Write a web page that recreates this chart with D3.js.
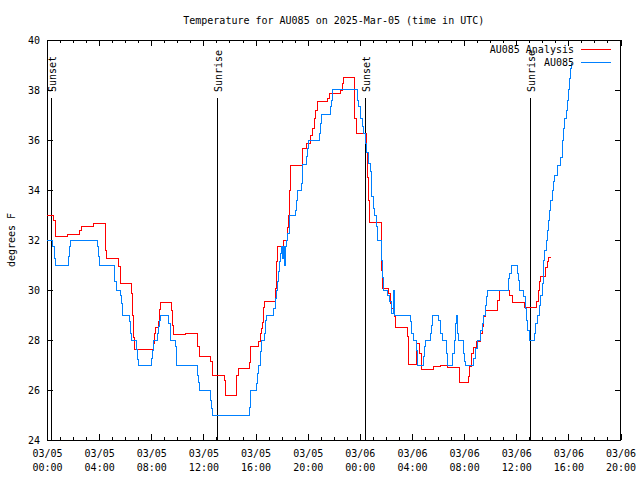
<!DOCTYPE html>
<html><head><meta charset="utf-8">
<script src="https://cdn.jsdelivr.net/npm/d3@7"></script>
<style>body{margin:0;background:#fff}svg{display:block}text{font-family:"DejaVu Sans Mono",monospace;font-size:10px;fill:#000}</style>
</head><body><svg width="640" height="480"></svg>
<script>
const title = "Temperature for AU085 on 2025-Mar-05 (time in UTC)";
const yLabel = "degrees F";
const seriesNames = ["AU085 Analysis", "AU085"];
const seriesColors = ["#ff0000", "#0080ff"];
const yTicks = [24, 26, 28, 30, 32, 34, 36, 38, 40];
const xTickHours = [0, 4, 8, 12, 16, 20, 24, 28, 32, 36, 40, 44];
const xTickDates = ["03/05","03/05","03/05","03/05","03/05","03/05","03/06","03/06","03/06","03/06","03/06","03/06"];
const xTickTimes = ["00:00","04:00","08:00","12:00","16:00","20:00","00:00","04:00","08:00","12:00","16:00","20:00"];
const sunEventMinutes = [20, 785, 1467, 2227];
const sunEventLabels = ["Sunset", "Sunrise", "Sunset", "Sunrise"];

// minutes after 2025-03-05 00:00 UTC
const analysisMinutes = [0,29,37,95,149,157,213,269,275,329,340,390,394,398,402,490,496,501,513,517,522,575,579,582,636,693,702,754,762,816,822,874,880,932,939,974,981,986,992,997,1001,1051,1055,1058,1061,1088,1106,1113,1117,1120,1174,1178,1194,1215,1224,1232,1238,1246,1293,1301,1350,1358,1365,1415,1424,1469,1476,1481,1485,1538,1542,1545,1573,1581,1588,1600,1604,1658,1665,1699,1714,1723,1777,1811,1842,1901,1939,1945,1952,1964,1977,1995,2003,2010,2018,2076,2083,2130,2144,2199,2253,2261,2266,2272,2295,2303,2307,2321];
const analysisTemps = [33.0,32.8,32.16,32.24,32.4,32.53,32.67,31.6,31.27,30.93,30.27,29.87,29.0,28.1,27.63,27.87,28.27,28.5,28.73,29.23,29.5,29.2,28.6,28.23,28.27,27.73,27.36,27.13,26.57,26.4,25.79,26.6,26.87,27.1,27.73,27.93,28.27,28.47,28.7,29.3,29.53,30.07,30.6,31.13,31.73,32.0,32.5,33.0,34.0,35.0,35.33,35.67,35.87,36.2,36.47,36.87,37.2,37.56,37.67,37.87,38.0,38.27,38.5,36.87,36.27,35.5,34.5,33.6,32.7,32.0,30.8,30.07,29.87,29.47,29.27,28.93,28.5,28.13,27.04,27.87,27.47,26.83,26.93,26.99,26.91,26.31,26.56,26.93,27.47,27.71,27.93,28.27,28.53,28.93,29.2,29.6,30.0,29.8,29.52,29.31,29.53,30.0,30.33,30.56,30.91,31.13,31.31,31.31];

const obsMinutes = [0,26,34,38,98,103,109,232,236,241,309,313,321,340,344,349,379,386,390,413,418,421,482,487,490,508,513,517,522,559,567,570,590,594,598,693,697,702,754,759,763,932,935,939,963,969,974,981,985,989,1000,1008,1012,1043,1051,1055,1063,1066,1070,1074,1078,1086,1089,1093,1097,1101,1109,1114,1117,1143,1147,1151,1170,1175,1178,1194,1199,1204,1255,1259,1264,1304,1309,1315,1430,1434,1442,1453,1458,1465,1473,1481,1488,1496,1501,1507,1516,1522,1538,1542,1545,1550,1568,1577,1584,1588,1596,1600,1673,1680,1685,1700,1706,1734,1739,1743,1765,1770,1776,1803,1811,1819,1839,1845,1868,1875,1882,1886,1891,1895,1916,1923,1928,1964,1972,1980,1995,2004,2010,2018,2023,2026,2126,2130,2137,2164,2172,2176,2195,2203,2206,2212,2221,2246,2250,2256,2268,2272,2280,2284,2287,2291,2298,2303,2307,2312,2318,2326,2333,2338,2349,2364,2372,2379,2384,2390,2395,2399,2405,2410,2415];
const obsTemps = [32.0,31.73,31.27,31.0,31.33,31.73,32.0,31.73,31.33,31.0,30.67,30.33,30.0,29.8,29.47,29.0,28.73,28.27,28.0,27.63,27.23,27.0,27.27,27.6,28.0,28.27,28.56,28.8,29.0,28.67,28.33,28.0,27.73,27.33,27.0,26.6,26.3,26.0,25.6,25.27,25.0,25.3,25.67,26.0,26.27,26.67,27.0,27.23,27.53,28.0,28.27,28.8,29.0,29.27,29.67,30.0,30.33,30.73,31.13,31.47,31.73,31.27,31.73,31.0,31.73,32.0,32.27,32.67,33.0,33.2,33.6,34.0,34.27,34.6,35.03,35.36,35.67,36.0,36.27,36.67,37.03,37.33,37.6,38.03,37.6,37.33,36.87,36.53,36.27,35.87,35.5,35.07,34.73,33.73,33.27,33.0,32.53,32.0,31.73,31.2,30.5,30.0,29.8,29.53,29.27,29.07,30.0,29.0,28.73,28.27,28.0,27.6,27.0,27.33,27.73,28.0,28.27,28.6,29.0,28.8,28.27,28.0,27.47,27.0,27.47,28.0,28.67,29.0,28.27,28.0,27.47,27.13,27.0,27.27,27.67,28.0,28.4,28.67,29.0,29.4,29.73,30.0,30.47,30.67,31.0,30.67,30.4,30.0,29.73,29.27,28.8,28.4,28.0,28.27,28.67,29.0,29.4,29.8,30.27,30.73,31.2,31.6,32.0,32.4,32.8,33.2,33.6,34.0,34.33,34.6,35.0,35.3,36.0,36.47,36.87,37.2,37.6,38.03,38.47,38.87,39.07];

const base = Date.UTC(2025, 2, 5, 0, 0);
const t = m => new Date(base + m * 60000);
const pLeft = 47, pRight = 620.5, pTop = 40, pBottom = 440;

const svg = d3.select("svg");
const x = d3.scaleUtc().domain([t(0), t(44 * 60)]).range([pLeft, pRight]);
const y = d3.scaleLinear().domain([24, 40]).range([pBottom, pTop]);

// title
svg.append("text").attr("x", (pLeft + pRight) / 2).attr("y", 24).attr("text-anchor", "middle").text(title);
// y label
svg.append("text").attr("transform", `translate(11,${(pTop + pBottom) / 2}) rotate(-90)`)
  .attr("text-anchor", "middle").attr("dy", "0.35em").text(yLabel);

const hourTicks = d3.range(0, 45).map(h => t(h * 60));
const majorTicks = xTickHours.map(h => t(h * 60));

function styleAxis(g) {
  g.select(".domain").remove();
  g.selectAll("line").attr("stroke", "#000").attr("shape-rendering", "crispEdges");
  g.selectAll("text").style("font-family", "DejaVu Sans Mono, monospace").style("font-size", "10px");
}

// minor x ticks bottom/top
svg.append("g").attr("transform", `translate(0,${pBottom})`)
  .call(d3.axisBottom(x).tickValues(hourTicks).tickSize(-3).tickFormat(""))
  .call(styleAxis);
svg.append("g").attr("transform", `translate(0,${pTop})`)
  .call(d3.axisTop(x).tickValues(hourTicks).tickSize(-3).tickFormat(""))
  .call(styleAxis);
// major x ticks
const xb = svg.append("g").attr("transform", `translate(0,${pBottom})`)
  .call(d3.axisBottom(x).tickValues(majorTicks).tickSize(-6).tickPadding(17).tickFormat((d, i) => xTickDates[i]))
  .call(styleAxis);
xb.selectAll(".tick text").each(function(d, i) {
  const s = d3.select(this);
  s.text(null);
  s.append("tspan").attr("x", 0).attr("dy", 0).text(xTickDates[i]);
  s.append("tspan").attr("x", 0).attr("dy", 14).text(xTickTimes[i]);
}).attr("dy", null).attr("y", 17);
svg.append("g").attr("transform", `translate(0,${pTop})`)
  .call(d3.axisTop(x).tickValues(majorTicks).tickSize(-6).tickFormat(""))
  .call(styleAxis);

// y axes
svg.append("g").attr("transform", `translate(${pLeft},0)`)
  .call(d3.axisLeft(y).tickValues(yTicks).tickSize(-6).tickPadding(7).tickFormat(d3.format("d")))
  .call(styleAxis);
svg.append("g").attr("transform", `translate(${pRight},0)`)
  .call(d3.axisRight(y).tickValues(yTicks).tickSize(-6).tickFormat(""))
  .call(styleAxis);

// frame
svg.append("rect").attr("x", pLeft).attr("y", pTop).attr("width", pRight - pLeft).attr("height", pBottom - pTop)
  .attr("fill", "none").attr("stroke", "#000").attr("shape-rendering", "crispEdges");

// sun events
sunEventMinutes.forEach((m, i) => {
  const xp = x(t(m));
  svg.append("line").attr("x1", xp).attr("x2", xp).attr("y1", 98).attr("y2", pBottom)
    .attr("stroke", "#000").attr("shape-rendering", "crispEdges");
  svg.append("text").attr("transform", `translate(${xp + 1},92) rotate(-90)`)
    .attr("dy", "0.35em").text(sunEventLabels[i]);
});

// series
const line = d3.line().curve(d3.curveStepAfter).x(d => x(t(d[0]))).y(d => y(d[1]));
const series = [
  d3.zip(analysisMinutes, analysisTemps),
  d3.zip(obsMinutes, obsTemps)
];
series.forEach((s, i) => {
  svg.append("path").datum(s).attr("d", line).attr("fill", "none")
    .attr("stroke", seriesColors[i]).attr("stroke-width", 1).attr("shape-rendering", "crispEdges");
});

// legend
seriesNames.forEach((n, i) => {
  const ly = 49 + i * 13;
  svg.append("text").attr("x", 574).attr("y", ly + 4).attr("text-anchor", "end").text(n);
  svg.append("line").attr("x1", 581).attr("x2", 611).attr("y1", ly).attr("y2", ly)
    .attr("stroke", seriesColors[i]).attr("stroke-width", 1).attr("shape-rendering", "crispEdges");
});
</script></body></html>
